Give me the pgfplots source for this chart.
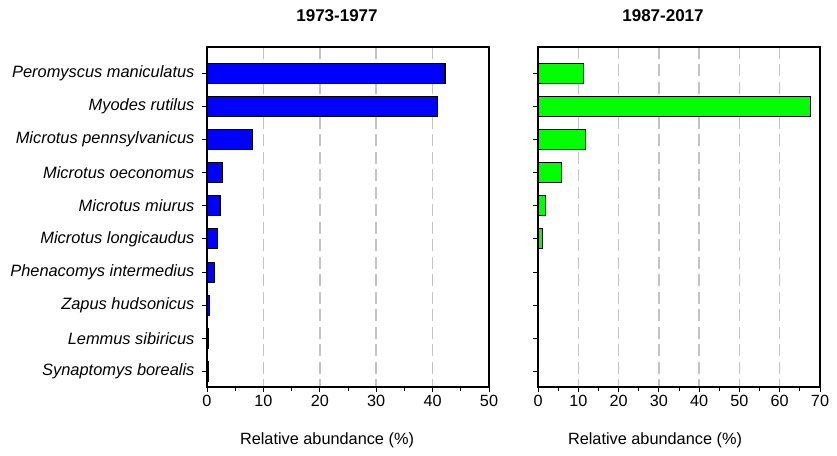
\documentclass[border=0pt]{standalone}
\usepackage{pgfplots}
\pgfplotsset{compat=1.18}
\usepackage{fontspec}
\setmainfont{Liberation Sans}
\definecolor{barblue}{RGB}{0,0,255}
\definecolor{bargreen}{RGB}{0,255,0}
\definecolor{gridgray}{RGB}{195,195,195}
\pgfplotsset{
  panel/.style={
    scale only axis, width=282pt, height=340pt, anchor=south west,
    xbar, bar width=0.6,
    y dir=reverse, ymin=-0.79, ymax=9.47, ytick={0,...,9},
    xmin=0, tick align=outside, tick pos=left,
    major tick length=5pt, minor tick length=3.5pt,
    minor x tick num=1,
    every tick/.append style={black, line width=1pt},
    xmajorgrids,
    major grid style={gridgray, line width=1.5pt, dash pattern=on 12pt off 5.5pt},
    axis line style={line width=1.3pt},
    /pgf/number format/assume math mode=true,
    tick label style={font=\fontsize{16.2}{19}\selectfont},
    yticklabel style={font=\fontsize{16.4}{19}\selectfont\itshape, xshift=-4pt},
    title style={font=\bfseries\fontsize{17}{20}\selectfont, at={(axis description cs:0.5,1)}, anchor=base, yshift=19pt},
    xlabel={Relative abundance (\%)},
    x label style={font=\fontsize{16.3}{19}\selectfont, at={(axis description cs:0.5,0)}, anchor=base, yshift=-57pt},
  }
}
\begin{document}
\begin{tikzpicture}
\path[use as bounding box] (0,0) rectangle (837pt,455pt);
\begin{axis}[panel, at={(207pt,68pt)},
  title={1973-1977}, title style={xshift=-11pt},
  x label style={xshift=-21pt},
  xmax=50, xtick={0,10,...,50},
  yticklabels={Peromyscus maniculatus, Myodes rutilus, Microtus pennsylvanicus, Microtus oeconomus, Microtus miurus, Microtus longicaudus, Phenacomys intermedius, Zapus hudsonicus, Lemmus sibiricus, Synaptomys borealis},
]
\addplot[fill=barblue, draw=black, line width=1.1pt] coordinates {
  (42.2,0) (40.9,1) (8.0,2) (2.7,3) (2.3,4) (1.8,5) (1.4,6) (0.5,7) (0.25,8) (0.25,9)
};
\end{axis}
\begin{axis}[panel, at={(538pt,68pt)},
  title={1987-2017}, title style={xshift=-16pt},
  x label style={xshift=-24pt},
  xmax=70, xtick={0,10,...,70},
  yticklabels={},
]
\addplot[fill=bargreen, draw=black, line width=1.1pt] coordinates {
  (11.2,0) (67.6,1) (11.8,2) (5.9,3) (1.9,4) (1.2,5)
};
\end{axis}
\end{tikzpicture}
\end{document}
